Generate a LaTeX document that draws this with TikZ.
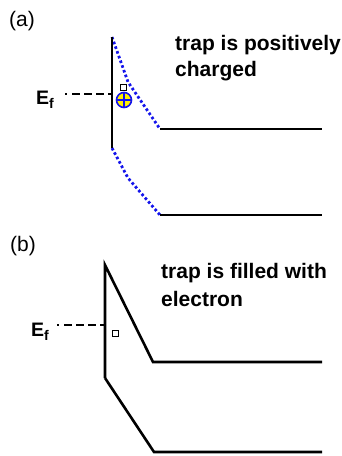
\documentclass[tikz,border=0pt]{standalone}
\usepackage{fontspec}
\setmainfont{Liberation Sans}
\usetikzlibrary{positioning}
\definecolor{trapblue}{RGB}{20,20,235}
\definecolor{trapyellow}{RGB}{255,240,0}
\newcommand{\fermisub}[1]{\raisebox{-4.5pt}{\fontsize{14}{14}\selectfont #1}}
\tikzset{
  bandline/.style={line width=2.6pt,draw=black,line join=miter},
  chargedband/.style={line width=2.8pt,draw=trapblue,dash pattern=on 2.6pt off 2.4pt},
  fermiline/.style={
    line width=2pt,
    draw=black,
    dash pattern=on 2pt off 5pt on 8pt off 4pt on 8pt off 4pt on 8pt off 4pt on 12pt off 20pt
  },
  trapstate/.style={draw,line width=0.9pt,minimum size=6pt,inner sep=0pt},
  holecharge/.style={
    circle,
    draw=trapblue,
    fill=trapyellow,
    line width=1.6pt,
    minimum size=15pt,
    inner sep=0pt
  },
  panellabel/.style={font=\fontsize{21}{24}\selectfont,inner sep=0pt},
  fermilabel/.style={font=\bfseries\fontsize{19.5}{22}\selectfont,inner sep=0pt},
  statetext/.style={font=\bfseries\fontsize{21}{27}\selectfont,align=left,inner sep=0pt}
}

\begin{document}
\begin{tikzpicture}[x=1pt,y=-1pt]
  \useasboundingbox (0,0) rectangle (342,456);

  % (a) positively charged trap
  \node[panellabel,anchor=west] (labela) at (9,21) {(a)};
  \coordinate (a-vtop) at (112,37);
  \coordinate (a-vbot) at (112,148);
  \coordinate (a-cmid) at (128,82);
  \coordinate (a-cknee) at (160,129);
  \coordinate (a-cend) at (322,129);
  \coordinate (a-vmid) at (128,178);
  \coordinate (a-vknee) at (160,215);
  \coordinate (a-vend) at (322,215);
  \coordinate (a-fermi) at (65,94);
  \coordinate (a-fermiend) at (112,94);

  \draw[chargedband] (a-vtop) -- (a-cmid) -- (a-cknee);
  \draw[chargedband] (a-vbot) -- (a-vmid) -- (a-vknee);
  \draw[bandline] (a-vtop) -- (a-vbot);
  \draw[bandline] (a-cknee) -- (a-cend);
  \draw[bandline] (a-vknee) -- (a-vend);
  \draw[fermiline] (a-fermi) -- (a-fermiend);
  \node[fermilabel,anchor=base west] (efa) at (36,104) {E\fermisub{f}};
  \node[trapstate] (traphole) at (123.5,87) {};
  \node[holecharge] (hole) at (124,100) {};
  \draw[trapblue,line width=1.4pt] (hole.north) -- (hole.south) (hole.west) -- (hole.east);
  \node[statetext,anchor=base west] (texta) at (175,76) {trap is positively\\[-1pt]charged};

  % (b) trap filled with electron
  \node[panellabel,anchor=west] (labelb) at (10,246) {(b)};
  \coordinate (b-vtop) at (105,265);
  \coordinate (b-vbot) at (105,378);
  \coordinate (b-cknee) at (153,362);
  \coordinate (b-cend) at (322,362);
  \coordinate (b-vknee) at (154,452);
  \coordinate (b-vend) at (322,452);
  \coordinate (b-fermi) at (57,325);
  \coordinate (b-fermiend) at (105,325);

  \draw[bandline] (b-vbot) -- (b-vtop) -- (b-cknee) -- (b-cend);
  \draw[bandline] (b-vbot) -- (b-vknee) -- (b-vend);
  \draw[fermiline] (b-fermi) -- (b-fermiend);
  \node[fermilabel,anchor=base west] (efb) at (31,336) {E\fermisub{f}};
  \node[trapstate] (trapelectron) at (115,333) {};
  \node[statetext,anchor=base west] (textb) at (161,306) {trap is filled with\\[1pt]electron};
\end{tikzpicture}
\end{document}
